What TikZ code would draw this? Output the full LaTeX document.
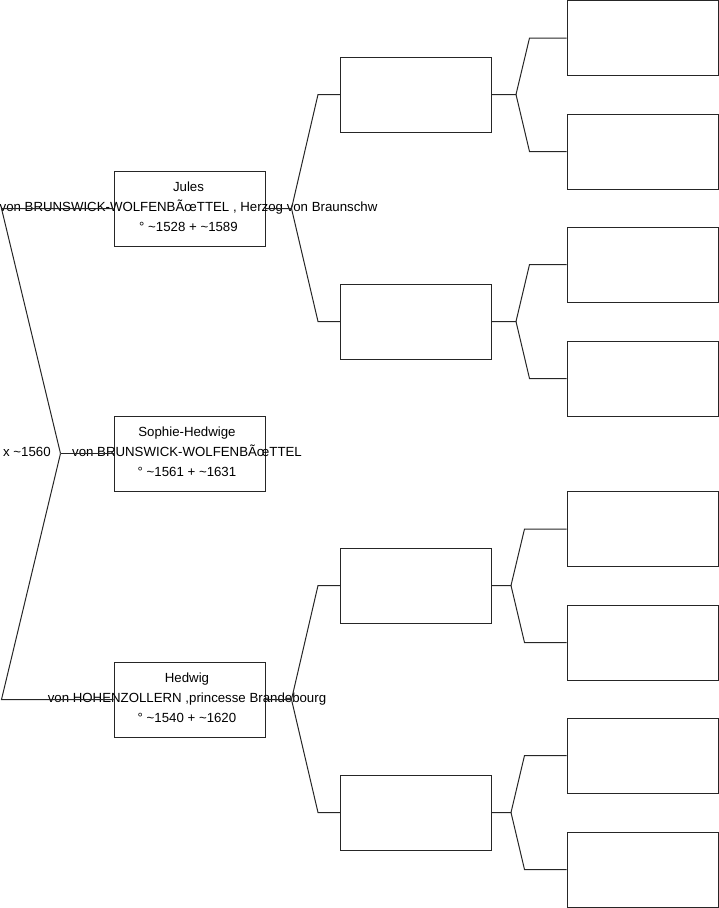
\documentclass[tikz,border=0pt]{standalone}
\usepackage{fontspec}
\setmainfont{Liberation Sans}
\newcommand{\ca}{\textasciitilde}
\begin{document}
\begin{tikzpicture}[x=1pt,y=-1pt]
    \tikzset{%
        box/.style={draw=black!85, line width=1pt, minimum width=151pt, minimum height=75pt, inner sep=0pt},
        txt/.style={align=center, inner sep=0pt, font=\fontsize{13.25}{20}\selectfont},
        e/.style={draw=black!85, line width=1pt}%
        }
    \useasboundingbox (0,0) rectangle (719,908);
    % generation 1
    \node[box](j)at(189.5,208.5){};
    \node[box](s)at(189.5,453.5){};
    \node[box](h)at(189.5,699.5){};
    % generation 2
    \node[box](a)at(416,94.5){};
    \node[box](b)at(416,321.5){};
    \node[box](c)at(416,585.5){};
    \node[box](d)at(416,812.5){};
    % generation 3
    \node[box](a1)at(642.5,38){};
    \node[box](a2)at(642.5,151.5){};
    \node[box](b1)at(642.5,264.5){};
    \node[box](b2)at(642.5,378.5){};
    \node[box](c1)at(642.5,529){};
    \node[box](c2)at(642.5,642.5){};
    \node[box](d1)at(642.5,755.5){};
    \node[box](d2)at(642.5,869.5){};
    % texts
    \node[txt](jt)at([shift={(-1pt,2pt)}]j.center){Jules\\von BRUNSWICK-WOLFENBÃœTTEL , Herzog von Braunschw\\° \ca1528 + \ca1589};
    \node[txt](st)at([shift={(-2.5pt,2pt)}]s.center){Sophie-Hedwige\\von BRUNSWICK-WOLFENBÃœTTEL\\° \ca1561 + \ca1631};
    \node[txt](ht)at([shift={(-2.5pt,2pt)}]h.center){Hedwig\\von HOHENZOLLERN ,princesse Brandebourg\\° \ca1540 + \ca1620};
    \node[txt, anchor=west](x)at(3,452){x \ca1560};
    % connectors
    \coordinate (f0) at ([xshift=-53pt]s.west);
    \coordinate (fj) at ([xshift=26pt]j.east);
    \coordinate (fh) at ([xshift=26pt]h.east);
    \draw[e] (s.west) -- (f0);
    \draw[e] (f0) -- ([xshift=-112pt]j.west) -- (j.west);
    \draw[e] (f0) -- ([xshift=-112pt]h.west) -- (h.west);
    \draw[e] (j.east) -- (fj) -- ([xshift=-22pt]a.west) -- (a.west);
    \draw[e] (fj) -- ([xshift=-22pt]b.west) -- (b.west);
    \draw[e] (h.east) -- (fh) -- ([xshift=-22pt]c.west) -- (c.west);
    \draw[e] (fh) -- ([xshift=-22pt]d.west) -- (d.west);
    \foreach \p/\f/\k in {a/24/37, b/24/37, c/19/42, d/19/42}{
        \coordinate (f\p) at ([xshift=\f pt]\p.east);
        \draw[e] (\p.east) -- (f\p) -- ([xshift=-\k pt]\p1.west) -- (\p1.west);
        \draw[e] (f\p) -- ([xshift=-\k pt]\p2.west) -- (\p2.west);
    }
\end{tikzpicture}
\end{document}
